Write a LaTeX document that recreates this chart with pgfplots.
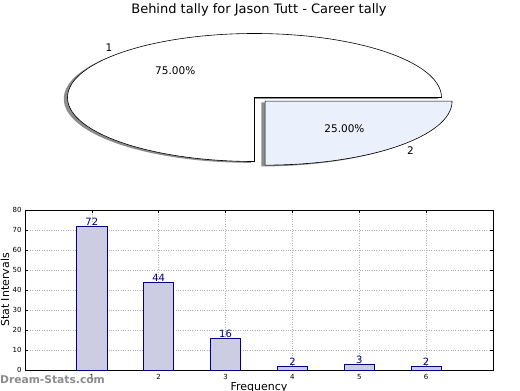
\documentclass[border=0pt]{standalone}
\usepackage{pgfplots}
\pgfplotsset{compat=1.18}
\usepackage{fontspec}
\setmainfont{DejaVu Sans}
\definecolor{barfill}{HTML}{CCCCE3}
\definecolor{baredge}{HTML}{000080}
\definecolor{slicetwo}{HTML}{EAF0FC}
\def\pA{75}
\def\pB{25}
\begin{document}
\begin{tikzpicture}[x=1bp,y=1bp]
\useasboundingbox (0,0) rectangle (520,390);
\pgfmathsetmacro\angA{360*(\pA/(\pA+\pB))}
\node[font=\fontsize{13bp}{15bp}\selectfont] at (259,380) {Behind tally for Jason Tutt - Career tally};
% pie
\begin{axis}[at={(254.5bp,292.5bp)}, anchor=center, scale only axis,
  width=448.8bp, height=153.6bp, xmin=-1.2, xmax=1.2, ymin=-1.2, ymax=1.2,
  hide axis, clip=false]
  % shadows
  \fill[black!45, shift={(-3.7bp,-1.3bp)}] (axis cs:0,0) -- ++(0:187bp and 64bp)
     arc[start angle=0, end angle=\angA, x radius=187bp, y radius=64bp] -- cycle;
  \fill[black!45, shift={(-3.7bp,-1.3bp)}] (axis cs:0.0566,-0.0566) -- ++(\angA:187bp and 64bp)
     arc[start angle=\angA, end angle=360, x radius=187bp, y radius=64bp] -- cycle;
  % slices
  \draw[fill=white, line width=0.6bp] (axis cs:0,0) -- ++(0:187bp and 64bp)
     arc[start angle=0, end angle=\angA, x radius=187bp, y radius=64bp] -- cycle;
  \draw[fill=slicetwo, line width=0.6bp] (axis cs:0.0566,-0.0566) -- ++(\angA:187bp and 64bp)
     arc[start angle=\angA, end angle=360, x radius=187bp, y radius=64bp] -- cycle;
  \node[font=\fontsize{10.5bp}{12bp}\selectfont] at (axis cs:-0.778,0.778) {1};
  \node[font=\fontsize{10.5bp}{12bp}\selectfont] at (axis cs:-0.424,0.424) {75.00\%};
  \node[font=\fontsize{10.5bp}{12bp}\selectfont] at (axis cs:0.834,-0.834) {2};
  \node[font=\fontsize{10.5bp}{12bp}\selectfont] at (axis cs:0.481,-0.481) {25.00\%};
\end{axis}
% bars
\begin{axis}[at={(25bp,20bp)}, anchor=south west, scale only axis,
  width=468bp, height=160bp, xmin=0, xmax=7, ymin=0, ymax=80,
  xtick={1,...,6}, ytick={0,10,...,80},
  grid=major, grid style={dotted, gray!60, line width=0.5bp},
  tick align=inside, major tick length=3bp, tick pos=both,
  tick style={black, line width=0.5bp},
  axis line style={line width=0.6bp},
  /pgf/number format/assume math mode=true,
  tick label style={font=\fontsize{7bp}{8bp}\selectfont},
  xticklabel style={yshift=-1bp},
  ylabel={Stat Intervals}, xlabel={Frequency},
  label style={font=\fontsize{11bp}{13bp}\selectfont},
  ylabel style={at={(axis description cs:-0.0427,0.5)}, anchor=center},
  xlabel style={at={(axis description cs:0.5,-0.1125)}, anchor=center},
]
\addplot[ybar, bar width=0.45, fill=barfill, draw=baredge, line width=0.7bp,
  nodes near coords,
  every node near coord/.append style={anchor=base, inner sep=0pt, yshift=0.5bp,
    text=baredge, font=\fontsize{10bp}{12bp}\selectfont}]
  coordinates {(1,72) (2,44) (3,16) (4,2) (5,3) (6,2)};
\end{axis}
\node[font=\bfseries\fontsize{10.7bp}{13bp}\selectfont, text=black!45, anchor=west, inner sep=0pt] at (0,10) {Dream-Stats.com};
\end{tikzpicture}
\end{document}
